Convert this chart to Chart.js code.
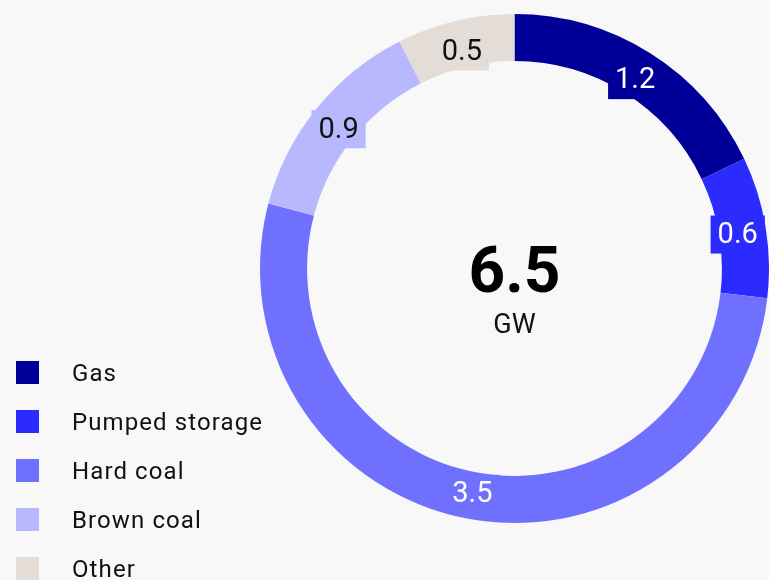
<!DOCTYPE html>
<html>
<head>
<meta charset="utf-8">
<script src="https://cdn.jsdelivr.net/npm/chart.js@4.4.1/dist/chart.umd.min.js"></script>
<style>
  html, body { margin:0; padding:0; background:#f8f8f8; overflow:hidden; }
  #wrap { position:relative; width:769px; height:580px; }
  #c { position:absolute; left:0; top:0; }
  #legend { position:absolute; left:16px; top:361px; font-family: Roboto, sans-serif; font-size:24px; color:#111; }
  .item { position:relative; height:49px; }
  .sw { position:absolute; left:0; top:0; width:23px; height:23px; }
  .lab { position:absolute; left:56px; top:-3px; line-height:30px; white-space:nowrap; letter-spacing:1.1px; }
</style>
</head>
<body>
<div id="wrap">
  <canvas id="c" width="769" height="580"></canvas>
  <div id="legend"></div>
</div>
<script>
const categories = ["Gas", "Pumped storage", "Hard coal", "Brown coal", "Other"];
const values = [1.2, 0.6, 3.5, 0.9, 0.5];
const colors = ["#000099", "#2b2bff", "#7070ff", "#b8b8ff", "#e4dcd6"];
const labelTextColors = ["#ffffff", "#ffffff", "#ffffff", "#111111", "#111111"];
const totalLabel = "6.5";
const unitLabel = "GW";

// HTML legend
const legend = document.getElementById('legend');
categories.forEach((c, i) => {
  const d = document.createElement('div');
  d.className = 'item';
  d.innerHTML = '<div class="sw" style="background:' + colors[i] + '"></div><div class="lab">' + c + '</div>';
  legend.appendChild(d);
});

const labelPlugin = {
  id: 'arcLabels',
  afterDatasetsDraw(chart) {
    const ctx = chart.ctx;
    const meta = chart.getDatasetMeta(0);
    ctx.save();
    ctx.font = '400 29px Roboto, sans-serif';
    ctx.textAlign = 'center';
    ctx.textBaseline = 'middle';
    meta.data.forEach((arc, i) => {
      const props = arc.getProps(['x', 'y', 'startAngle', 'endAngle', 'innerRadius', 'outerRadius']);
      const a = (props.startAngle + props.endAngle) / 2;
      const r = props.innerRadius + (props.outerRadius - props.innerRadius) * 0.4;
      const px = props.x + Math.cos(a) * r;
      const py = props.y + Math.sin(a) * r + 3;
      const txt = values[i].toFixed(1);
      const w = ctx.measureText(txt).width + 14;
      const h = 38;
      ctx.fillStyle = colors[i];
      ctx.fillRect(px - w / 2, py - h / 2, w, h);
      ctx.fillStyle = labelTextColors[i];
      ctx.fillText(txt, px, py + 1);
    });
    // center text
    const cx = (chart.chartArea.left + chart.chartArea.right) / 2;
    const cy = (chart.chartArea.top + chart.chartArea.bottom) / 2;
    ctx.fillStyle = '#000';
    ctx.font = 'bold 64px Roboto, sans-serif';
    ctx.textBaseline = 'alphabetic';
    ctx.fillText(totalLabel, cx, cy + 23);
    ctx.font = '400 27px Roboto, sans-serif';
    ctx.fillStyle = '#111';
    ctx.fillText(unitLabel, cx, cy + 64);
    ctx.restore();
  }
};

new Chart(document.getElementById('c'), {
  type: 'doughnut',
  data: {
    labels: categories,
    datasets: [{
      data: values,
      backgroundColor: colors,
      borderWidth: 0,
      hoverOffset: 0
    }]
  },
  options: {
    responsive: false,
    animation: false,
    cutout: '81.5%',
    layout: { padding: { left: 260, top: 14, right: 0, bottom: 57 } },
    plugins: {
      legend: { display: false },
      tooltip: { enabled: false }
    }
  },
  plugins: [labelPlugin]
});
</script>
</body>
</html>
